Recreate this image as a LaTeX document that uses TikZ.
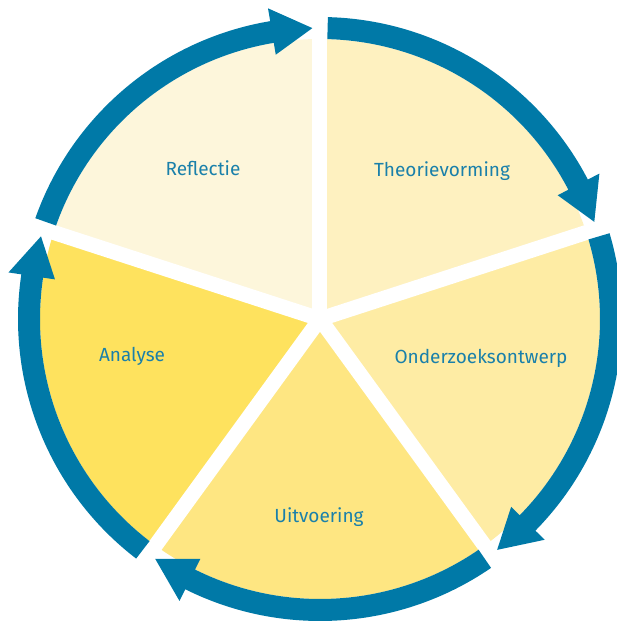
\documentclass[tikz,border=0pt]{standalone}
\usepackage{fontspec}
\setmainfont{Fira Sans}
\usepackage{xcolor}
\usepackage{tikz}
\usetikzlibrary{calc}

\definecolor{cycleblue}{HTML}{0079A7}
\definecolor{textblue}{HTML}{1A80AA}
\definecolor{reflfill}{HTML}{FDF6DB}
\definecolor{theoryfill}{HTML}{FEF1C0}
\definecolor{designfill}{HTML}{FEECA4}
\definecolor{execfill}{HTML}{FEE682}
\definecolor{analysisfill}{HTML}{FEE25E}

\begin{document}
\begin{tikzpicture}[
    x=1pt, y=1pt,
    phase/.style={text=textblue, anchor=base, inner sep=0pt, font=\fontsize{19}{23}\selectfont},
    gap/.style={draw=white, line width=15pt},
    cyclearrow/.style={fill=cycleblue}
]
\useasboundingbox (-320,-305) rectangle (296,319);
\coordinate (c) at (0,0);

% Sectors
\fill[theoryfill] (c) -- (90:280) arc[start angle=90, end angle=18, radius=280pt] -- cycle;
\fill[designfill] (c) -- (18:280) arc[start angle=18, end angle=-54, radius=280pt] -- cycle;
\fill[execfill] (c) -- (-54:280) arc[start angle=-54, end angle=-126, radius=280pt] -- cycle;
\fill[analysisfill] (c) -- (-126:280) arc[start angle=-126, end angle=-198, radius=280pt] -- cycle;
\fill[reflfill] (c) -- (162:280) arc[start angle=162, end angle=90, radius=280pt] -- cycle;

% Gaps between sectors
\draw[gap] (c) -- (90:282);
\draw[gap] (c) -- (18:282);
\draw[gap] (c) -- (-54:282);
\draw[gap] (c) -- (-126:282);
\draw[gap] (c) -- (162:282);

% Labels
\node[phase] (theory) at (122,142) {Theorievorming};
\node[phase] (design) at (161,-44) {Onderzoeksontwerp};
\node[phase] (exec) at (-1,-203) {Uitvoering};
\node[phase] (analysis) at (-188,-42) {Analyse};
\node[phase] (refl) at (-117,143) {Reflectie};

% Arrows
\fill[cyclearrow] (88.5:280) arc[start angle=88.5, end angle=27.5, radius=280pt]
    -- (27.5:268) -- (19.5:291) -- (27.5:315) -- (27.5:302)
    arc[start angle=27.5, end angle=88.5, radius=302pt] -- cycle;
\fill[cyclearrow] (16.5:280) arc[start angle=16.5, end angle=-44.5, radius=280pt]
    -- (-44.5:268) -- (-52.5:291) -- (-44.5:315) -- (-44.5:302)
    arc[start angle=-44.5, end angle=16.5, radius=302pt] -- cycle;
\fill[cyclearrow] (-55.5:280) arc[start angle=-55.5, end angle=-116.5, radius=280pt]
    -- (-116.5:268) -- (-124.5:291) -- (-116.5:315) -- (-116.5:302)
    arc[start angle=-116.5, end angle=-55.5, radius=302pt] -- cycle;
\fill[cyclearrow] (-127.5:280) arc[start angle=-127.5, end angle=-188.5, radius=280pt]
    -- (-188.5:268) -- (-196.5:291) -- (-188.5:315) -- (-188.5:302)
    arc[start angle=-188.5, end angle=-127.5, radius=302pt] -- cycle;
\fill[cyclearrow] (160.5:280) arc[start angle=160.5, end angle=99.5, radius=280pt]
    -- (99.5:268) -- (91.5:291) -- (99.5:315) -- (99.5:302)
    arc[start angle=99.5, end angle=160.5, radius=302pt] -- cycle;

\end{tikzpicture}
\end{document}
